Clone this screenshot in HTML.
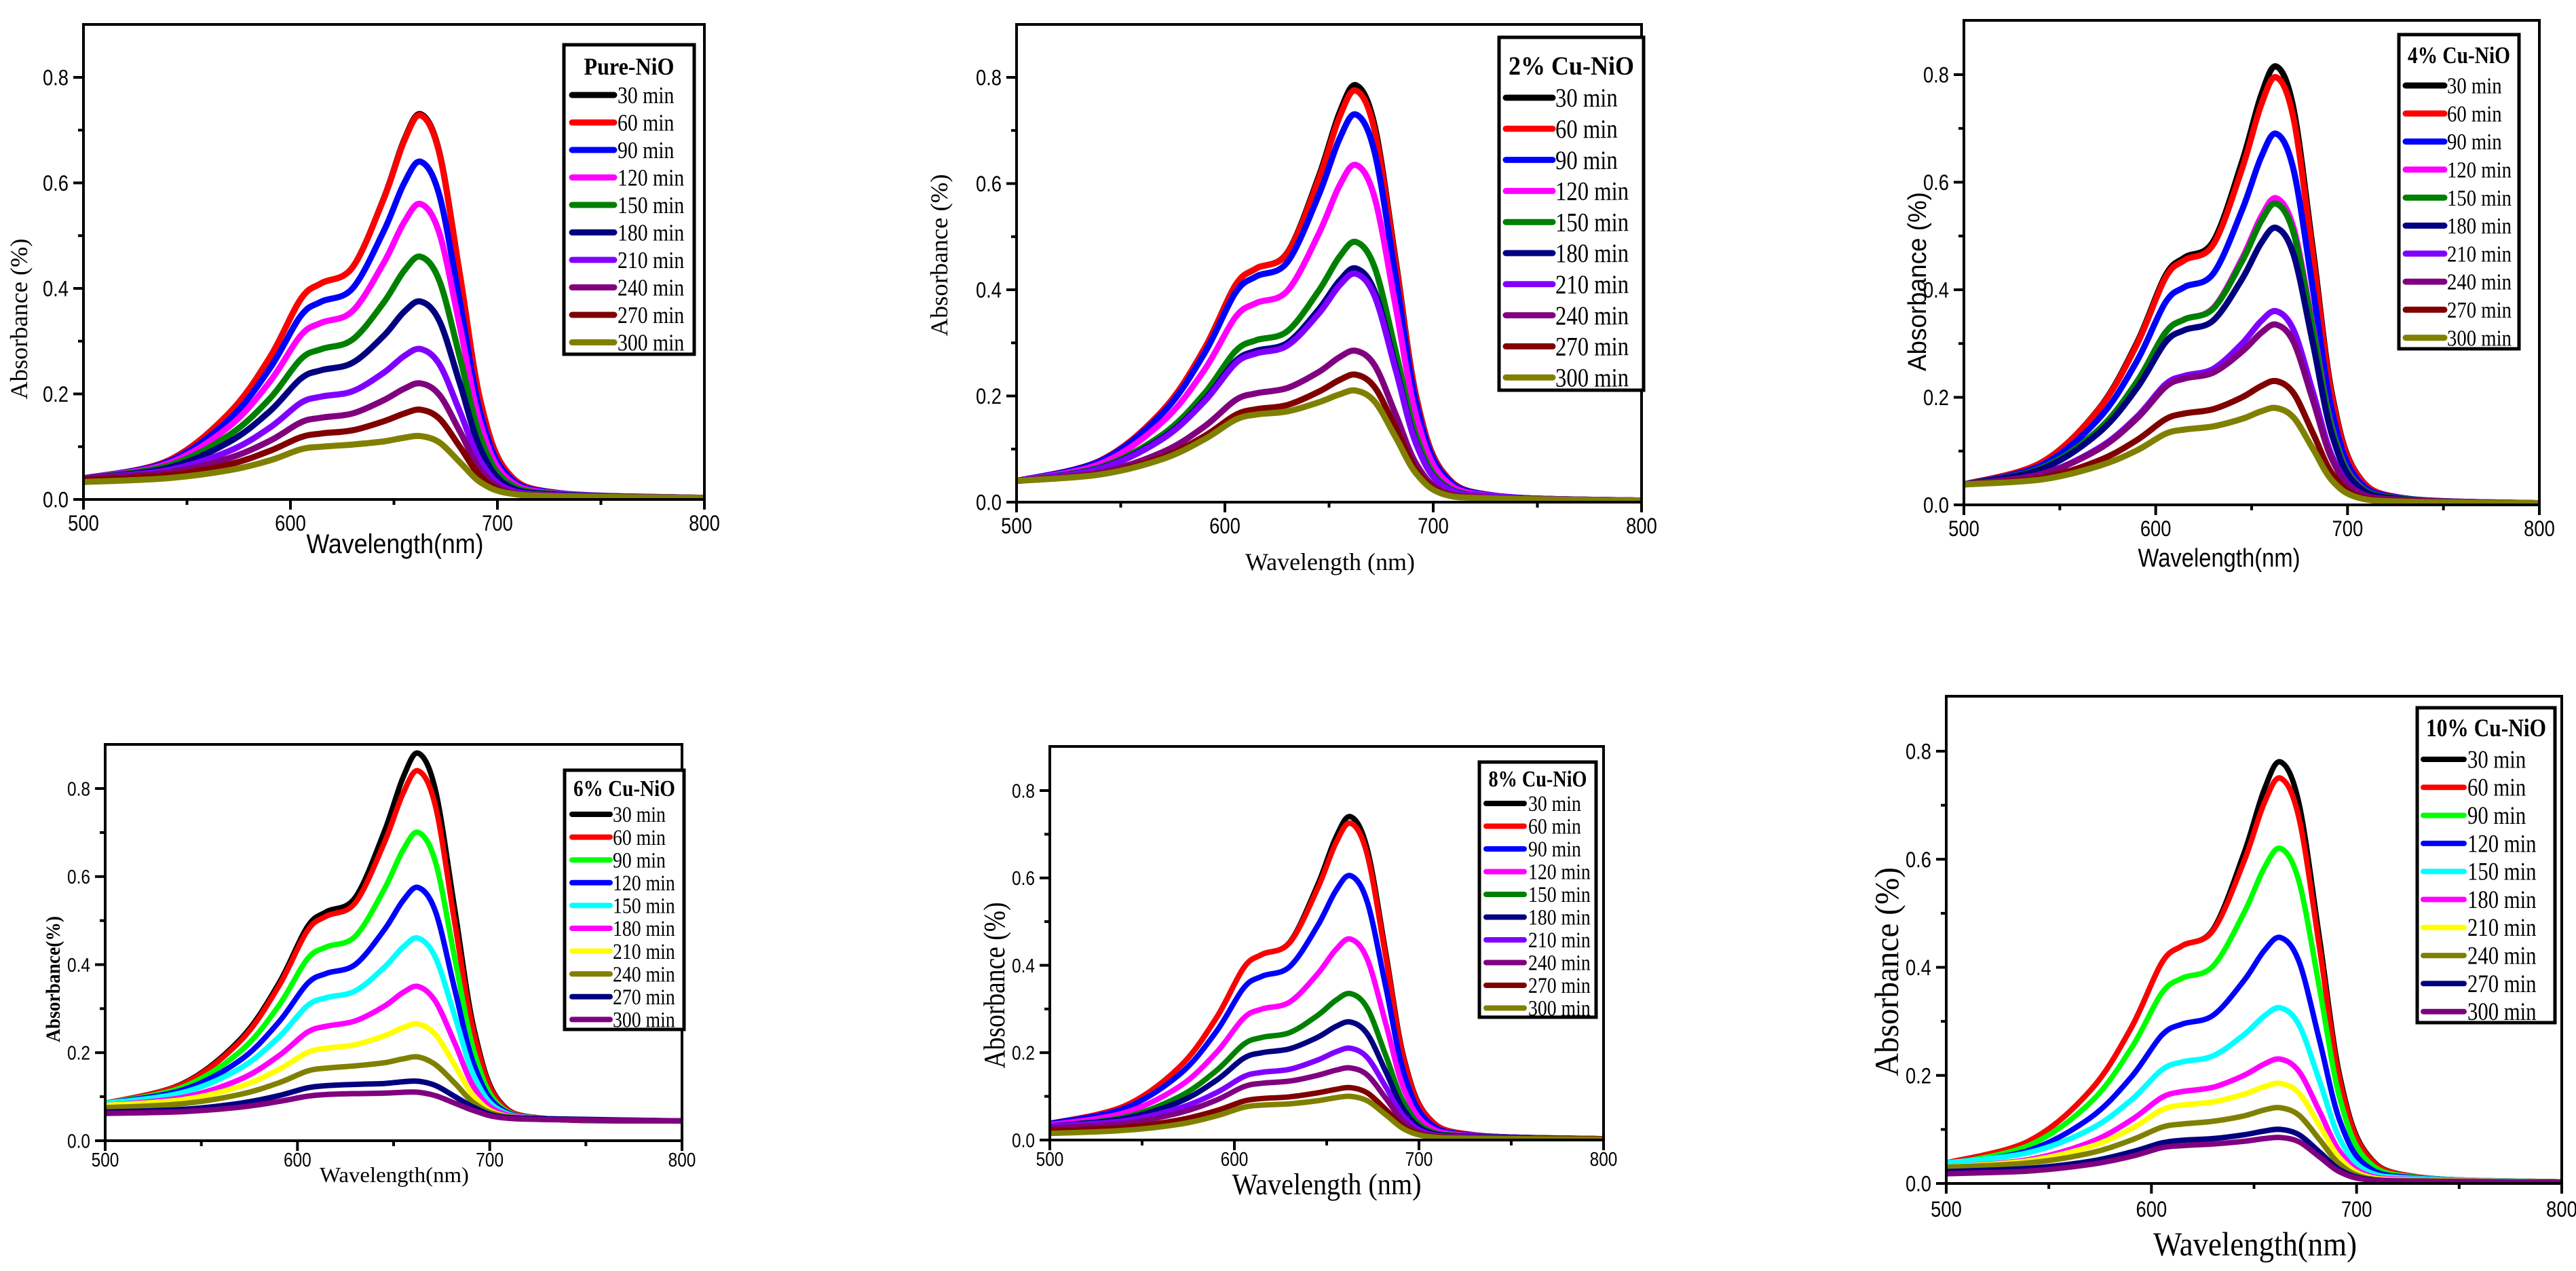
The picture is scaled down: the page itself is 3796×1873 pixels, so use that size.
<!DOCTYPE html>
<html><head><meta charset="utf-8"><style>
html,body{margin:0;padding:0;background:#fff;}
svg{display:block;}
</style></head><body>
<svg id="chart" xmlns="http://www.w3.org/2000/svg" width="3796" height="1873" viewBox="0 0 3796 1873">
<rect width="3796" height="1873" fill="#fff"/>
</svg>
<script>
// ---- data ----
const wavelengths = [500,540,570,590,605,615,630,645,655,663,672,682,692,705,730,800];
const timeLabels = ["30 min","60 min","90 min","120 min","150 min","180 min","210 min","240 min","270 min","300 min"];
const xTickValues = [500,600,700,800];
const xTickLabels = ["500","600","700","800"];
const yTickValues = [0,0.2,0.4,0.6,0.8];
const yTickLabels = ["0.0","0.2","0.4","0.6","0.8"];

const pureNiO = [
[.04,.072,.162,.269,.38,.41,.44,.57,.682,.73,.657,.423,.183,.051,.012,.003],
[.04,.072,.162,.269,.38,.41,.44,.569,.68,.728,.655,.422,.182,.051,.012,.003],
[.04,.07,.15,.248,.348,.375,.40,.508,.6,.64,.576,.371,.16,.045,.012,.003],
[.04,.067,.137,.223,.311,.335,.357,.448,.526,.56,.504,.325,.14,.039,.011,.003],
[.04,.063,.121,.191,.266,.285,.303,.373,.434,.46,.414,.267,.115,.032,.01,.003],
[.04,.059,.108,.167,.229,.245,.259,.31,.356,.375,.338,.218,.094,.026,.009,.003],
[.04,.055,.091,.136,.183,.195,.205,.24,.272,.285,.256,.165,.071,.02,.008,.003],
[.04,.051,.078,.111,.146,.155,.163,.188,.21,.22,.198,.128,.055,.016,.007,.003],
[.037,.046,.066,.092,.118,.125,.131,.148,.163,.17,.153,.099,.043,.013,.006,.003],
[.033,.04,.055,.074,.095,.10,.104,.11,.117,.12,.108,.07,.032,.012,.006,.003]];
const cu2 = [
[.04,.078,.172,.288,.408,.44,.47,.613,.733,.785,.707,.455,.196,.055,.012,.003],
[.04,.078,.172,.288,.408,.44,.469,.608,.725,.775,.698,.45,.194,.054,.012,.003],
[.04,.077,.167,.279,.394,.425,.452,.578,.684,.73,.657,.423,.183,.051,.012,.003],
[.04,.072,.151,.248,.348,.375,.398,.505,.596,.635,.572,.368,.159,.044,.011,.003],
[.04,.066,.127,.204,.284,.305,.322,.398,.462,.49,.441,.284,.123,.034,.01,.003],
[.04,.064,.121,.192,.265,.285,.30,.363,.417,.44,.396,.255,.11,.031,.01,.003],
[.04,.063,.119,.189,.261,.28,.295,.355,.408,.43,.387,.249,.108,.03,.01,.003],
[.04,.056,.094,.142,.192,.205,.215,.245,.273,.285,.257,.165,.071,.02,.008,.003],
[.04,.053,.085,.124,.164,.175,.183,.208,.23,.24,.216,.139,.06,.017,.007,.003],
[.04,.052,.081,.118,.155,.165,.171,.188,.203,.21,.189,.122,.053,.015,.007,.003]];
const cu4 = [
[.038,.078,.177,.3,.426,.46,.49,.638,.762,.815,.734,.473,.204,.057,.012,.003],
[.038,.078,.176,.297,.422,.455,.484,.625,.744,.795,.716,.461,.199,.056,.012,.003],
[.038,.073,.159,.266,.376,.405,.43,.548,.647,.69,.621,.4,.173,.048,.012,.003],
[.038,.068,.139,.228,.32,.345,.366,.458,.536,.57,.513,.331,.143,.04,.011,.003],
[.038,.068,.139,.228,.32,.345,.365,.453,.528,.56,.504,.325,.14,.039,.011,.003],
[.038,.066,.133,.216,.302,.325,.343,.42,.487,.515,.464,.299,.129,.036,.01,.003],
[.038,.057,.105,.163,.224,.24,.253,.3,.342,.36,.324,.209,.09,.025,.009,.003],
[.038,.057,.103,.16,.219,.235,.246,.285,.32,.335,.302,.194,.084,.024,.009,.003],
[.038,.05,.082,.12,.159,.17,.178,.2,.221,.23,.207,.133,.058,.017,.007,.003],
[.038,.047,.072,.101,.132,.14,.146,.16,.174,.18,.162,.104,.045,.014,.006,.003]];
const cu6 = [
[.085,.129,.229,.355,.485,.52,.552,.7,.826,.88,.792,.52,.25,.09,.05,.045],
[.085,.128,.225,.349,.476,.51,.54,.675,.79,.84,.756,.49,.24,.088,.05,.045],
[.085,.121,.202,.305,.412,.44,.464,.57,.661,.70,.63,.41,.2,.08,.05,.045],
[.085,.115,.182,.268,.356,.38,.40,.478,.546,.575,.518,.34,.17,.075,.05,.045],
[.085,.109,.164,.234,.306,.325,.34,.393,.44,.46,.414,.28,.145,.07,.05,.045],
[.08,.098,.139,.192,.246,.26,.272,.305,.337,.35,.315,.22,.12,.065,.05,.045],
[.08,.093,.123,.161,.2,.21,.218,.238,.257,.265,.24,.17,.1,.06,.05,.045],
[.075,.084,.105,.131,.158,.165,.17,.177,.186,.19,.172,.13,.085,.058,.05,.045],
[.065,.071,.085,.102,.12,.125,.128,.13,.134,.135,.125,.1,.075,.055,.05,.045],
[.062,.066,.076,.089,.101,.105,.107,.108,.11,.11,.102,.085,.068,.053,.048,.045]];
const cu8 = [
[.038,.077,.166,.278,.394,.425,.453,.583,.693,.74,.666,.429,.185,.052,.012,.003],
[.038,.077,.166,.278,.394,.425,.452,.575,.68,.725,.653,.42,.181,.051,.012,.003],
[.038,.072,.149,.247,.348,.375,.397,.49,.571,.605,.545,.351,.151,.042,.011,.003],
[.035,.062,.122,.199,.279,.30,.316,.38,.436,.46,.414,.267,.115,.032,.01,.003],
[.032,.052,.099,.158,.219,.235,.246,.285,.32,.335,.302,.194,.084,.023,.009,.003],
[.032,.049,.087,.136,.187,.20,.209,.235,.26,.27,.243,.157,.068,.019,.008,.003],
[.032,.044,.073,.108,.145,.155,.162,.183,.202,.21,.189,.122,.053,.015,.007,.003],
[.028,.038,.062,.091,.122,.13,.135,.148,.16,.165,.149,.096,.041,.012,.006,.003],
[.022,.029,.046,.067,.089,.095,.099,.108,.116,.12,.108,.07,.03,.01,.005,.003],
[.015,.022,.036,.055,.075,.08,.083,.09,.097,.10,.09,.058,.025,.008,.004,.002]];
const cu10 = [
[.038,.078,.171,.287,.408,.44,.47,.61,.729,.78,.702,.452,.195,.055,.012,.003],
[.038,.078,.171,.287,.408,.44,.468,.595,.704,.75,.675,.435,.188,.053,.012,.003],
[.035,.07,.149,.249,.352,.38,.402,.50,.584,.62,.558,.36,.155,.043,.011,.003],
[.035,.061,.121,.196,.274,.295,.311,.375,.431,.455,.41,.264,.114,.032,.01,.003],
[.038,.057,.1,.154,.21,.225,.236,.275,.31,.325,.293,.189,.081,.023,.009,.003],
[.03,.044,.076,.117,.159,.17,.178,.20,.221,.23,.207,.133,.058,.016,.007,.003],
[.03,.042,.068,.101,.136,.145,.151,.165,.179,.185,.167,.107,.046,.013,.006,.003],
[.03,.038,.056,.08,.104,.11,.115,.125,.136,.14,.126,.081,.035,.01,.005,.003],
[.022,.028,.041,.058,.075,.08,.083,.09,.097,.10,.09,.058,.025,.008,.004,.002],
[.018,.023,.035,.05,.066,.07,.073,.078,.083,.085,.077,.049,.021,.007,.004,.002]];

const colorsA = ["#000000","#ff0000","#0000ff","#ff00ff","#008000","#000080","#8000ff","#800080","#800000","#808000"];
const colorsB = ["#000000","#ff0000","#00ff00","#0000ff","#00ffff","#ff00ff","#ffff00","#808000","#000080","#800080"];

const panels = [
 {name:"pure-nio",title:"Pure-NiO",data:pureNiO,colors:colorsA,x0:123,x1:1038,y0:736,y08:114,top:36,tick:28,xlab:782,lw:9,
  leg:{x0:831,x1:1023,y0:66,y1:522,tb:110,tw:133,first:140,step:40.5,s0:843,s1:905,tx:910,fs:30},
  yt:{t:"Absorbance (%)",x:40,c:470,len:237,fs:36,ff:"serif",fw:"normal"},
  xt:{t:"Wavelength(nm)",c:582,b:815,len:261,fs:40,ff:"sans",fw:"normal"}},
 {name:"cu2-nio",title:"2% Cu-NiO",data:cu2,colors:colorsA,x0:1498,x1:2419,y0:740,y08:114,top:36,tick:28,xlab:786,lw:9,
  leg:{x0:2209,x1:2422,y0:55,y1:575,tb:110,tw:185,first:144,step:45.8,s0:2219,s1:2288,tx:2292,fs:33},
  yt:{t:"Absorbance (%)",x:1396,c:376,len:239,fs:36,ff:"serif",fw:"normal"},
  xt:{t:"Wavelength (nm)",c:1960,b:840,len:250,fs:36,ff:"serif",fw:"normal"}},
 {name:"cu4-nio",title:"4% Cu-NiO",data:cu4,colors:colorsA,x0:2894,x1:3742,y0:744,y08:110,top:30,tick:28,xlab:790,lw:9,
  leg:{x0:3535,x1:3712,y0:51,y1:514,tb:93,tw:151,first:126,step:41.3,s0:3545,s1:3602,tx:3606,fs:29},
  yt:{t:"Absorbance (%)",x:2838,c:415,len:264,fs:38,ff:"sans",fw:"normal"},
  xt:{t:"Wavelength(nm)",c:3270,b:835,len:239,fs:38,ff:"sans",fw:"normal"}},
 {name:"cu6-nio",title:"6% Cu-NiO",data:cu6,colors:colorsB,x0:155,x1:1005,y0:1681,y08:1162,top:1097,tick:25,xlab:1719,lw:8,
  leg:{x0:832,x1:1008,y0:1135,y1:1517,tb:1173,tw:150,first:1200,step:33.6,s0:843,s1:899,tx:903,fs:28},
  yt:{t:"Absorbance(%)",x:88,c:1443,len:186,fs:30,ff:"serif",fw:"bold"},
  xt:{t:"Wavelength(nm)",c:581,b:1742,len:220,fs:32,ff:"serif",fw:"normal"}},
 {name:"cu8-nio",title:"8% Cu-NiO",data:cu8,colors:colorsA,x0:1547,x1:2363,y0:1680,y08:1165,top:1100,tick:25,xlab:1718,lw:8,
  leg:{x0:2180,x1:2352,y0:1123,y1:1499,tb:1159,tw:145,first:1184,step:33.5,s0:2190,s1:2246,tx:2252,fs:28},
  yt:{t:"Absorbance (%)",x:1480,c:1452,len:245,fs:44,ff:"serif",fw:"normal"},
  xt:{t:"Wavelength (nm)",c:1955,b:1760,len:279,fs:44,ff:"serif",fw:"normal"}},
 {name:"cu10-nio",title:"10% Cu-NiO",data:cu10,colors:colorsB,x0:2868,x1:3775,y0:1744,y08:1107,top:1026,tick:28,xlab:1793,lw:8,
  leg:{x0:3562,x1:3765,y0:1043,y1:1507,tb:1085,tw:177,first:1119,step:41.3,s0:3571,s1:3631,tx:3636,fs:31},
  yt:{t:"Absorbance (%)",x:2797,c:1432,len:308,fs:50,ff:"serif",fw:"normal"},
  xt:{t:"Wavelength(nm)",c:3323,b:1850,len:300,fs:50,ff:"serif",fw:"normal"}}
];

const NS="http://www.w3.org/2000/svg";
const svg=document.getElementById("chart");
const SANS='"Liberation Sans", Arial, sans-serif', SERIF='"Liberation Serif", "Times New Roman", serif';
function mk(tag,attrs,parent){const e=document.createElementNS(NS,tag);for(const k in attrs)e.setAttribute(k,attrs[k]);parent.appendChild(e);return e;}

function smoothPath(pts){
  let d="M"+pts[0][0].toFixed(1)+","+pts[0][1].toFixed(1);
  for(let i=0;i<pts.length-1;i++){
    const p0=pts[i-1]||pts[i],p1=pts[i],p2=pts[i+1],p3=pts[i+2]||p2;
    const c1x=p1[0]+(p2[0]-p0[0])/6,c1y=p1[1]+(p2[1]-p0[1])/6;
    const c2x=p2[0]-(p3[0]-p1[0])/6,c2y=p2[1]-(p3[1]-p1[1])/6;
    d+=" C"+c1x.toFixed(1)+","+c1y.toFixed(1)+" "+c2x.toFixed(1)+","+c2y.toFixed(1)+" "+p2[0].toFixed(1)+","+p2[1].toFixed(1);
  }
  return d;
}

panels.forEach(p=>{
  const g=mk("g",{},svg);
  
  
  const xs=v=>p.x0+(v-500)/300*(p.x1-p.x0);
  const ys=v=>p.y0-v*(p.y0-p.y08)/0.8;
  const cid="clip-"+p.name;
  const cp=mk("clipPath",{id:cid},g);
  mk("rect",{x:p.x0,y:p.top,width:p.x1-p.x0,height:p.y0-p.top},cp);
  const sg=mk("g",{"clip-path":"url(#"+cid+")"},g);
  p.data.forEach((vals,i)=>{
    const pts=vals.map((v,j)=>[xs(wavelengths[j]),ys(v)]);
    const path=mk("path",{d:smoothPath(pts),fill:"none",stroke:p.colors[i],"stroke-width":p.lw,"stroke-linejoin":"round","stroke-linecap":"round"},sg);
    
    
  });
  const fr=mk("rect",{x:p.x0,y:p.top,width:p.x1-p.x0,height:p.y0-p.top,fill:"none",stroke:"#000","stroke-width":4},g);
  
  
  for(let k=0;k<=8;k++){
    const v=k/10, y=ys(v), major=k%2===0;
    mk("line",{x1:p.x0-(major?15:8),x2:p.x0,y1:y,y2:y,stroke:"#000","stroke-width":4},g);
  }
  const tf=p.tick*1.15;
  yTickValues.forEach((v,i)=>{
    const t=mk("text",{transform:"translate("+(p.x0-22)+","+(ys(v)+tf*0.36)+") scale(0.85,1)","text-anchor":"end","font-family":SANS,"font-size":tf,fill:"#000"},g);
    t.textContent=yTickLabels[i];
    
    
  });
  for(let w=500;w<=800;w+=50){
    const x=xs(w), major=(w%100===0);
    mk("line",{x1:x,x2:x,y1:p.y0,y2:p.y0+(major?15:8),stroke:"#000","stroke-width":4},g);
  }
  xTickValues.forEach((v,i)=>{
    const t=mk("text",{transform:"translate("+xs(v)+","+p.xlab+") scale(0.85,1)","text-anchor":"middle","font-family":SANS,"font-size":tf,fill:"#000"},g);
    t.textContent=xTickLabels[i];
    
    
  });
  const yt=mk("text",{x:p.yt.x,y:p.yt.c,transform:"rotate(-90 "+p.yt.x+" "+p.yt.c+")","text-anchor":"middle","font-family":p.yt.ff==="sans"?SANS:SERIF,"font-weight":p.yt.fw,"font-size":p.yt.fs,textLength:p.yt.len,lengthAdjust:"spacingAndGlyphs",fill:"#000"},g);
  yt.textContent=p.yt.t;
  
  
  const xt=mk("text",{x:p.xt.c,y:p.xt.b,"text-anchor":"middle","font-family":p.xt.ff==="sans"?SANS:SERIF,"font-size":p.xt.fs,textLength:p.xt.len,lengthAdjust:"spacingAndGlyphs",fill:"#000"},g);
  xt.textContent=p.xt.t;
  
  
  const L=p.leg;
  const lg=mk("g",{},g);
  
  
  mk("rect",{x:L.x0,y:L.y0,width:L.x1-L.x0,height:L.y1-L.y0,fill:"#fff",stroke:"#000","stroke-width":5},lg);
  const tt=mk("text",{x:(L.x0+L.x1)/2,y:L.tb,"text-anchor":"middle","font-family":SERIF,"font-weight":"bold","font-size":L.fs*1.2,textLength:L.tw,lengthAdjust:"spacingAndGlyphs",fill:"#000"},lg);
  tt.textContent=p.title;
  
  
  const lf=L.fs*1.18;
  timeLabels.forEach((lab,i)=>{
    const cy=L.first+i*L.step;
    const eg=mk("g",{},lg);
    
    
    mk("line",{x1:L.s0,x2:L.s1,y1:cy,y2:cy,stroke:p.colors[i],"stroke-width":p.lw,"stroke-linecap":"round"},eg);
    const t=mk("text",{transform:"translate("+L.tx+","+(cy+lf*0.34)+") scale(0.84,1)","font-family":SERIF,"font-size":lf,fill:"#000"},eg);
    t.textContent=lab;
  });
});
</script>
</body></html>
